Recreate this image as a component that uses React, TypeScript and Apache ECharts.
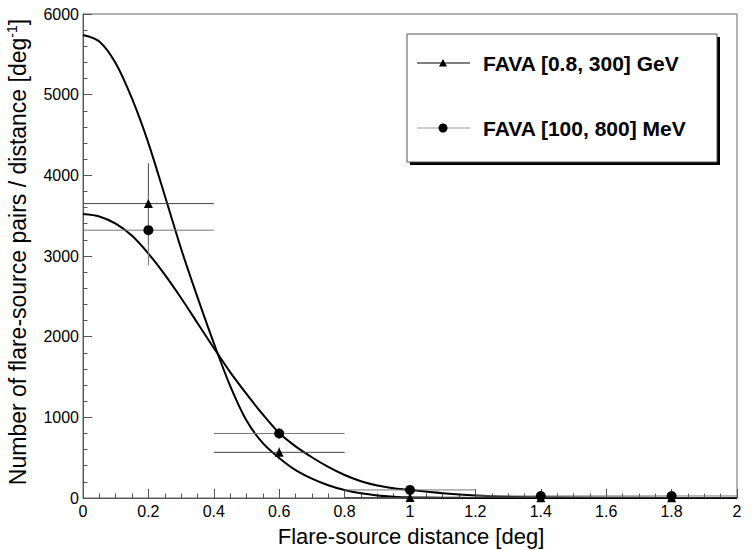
import React, { useEffect, useRef } from "react";
import * as echarts from "echarts";

// Smooth model curves
const curveX = [0, 0.05, 0.1, 0.15, 0.2, 0.25, 0.3, 0.35, 0.4, 0.45, 0.5, 0.55, 0.6, 0.65, 0.7, 0.75, 0.8, 0.85, 0.9, 0.95, 1.0, 1.1, 1.2, 1.3, 1.4, 1.6, 1.8, 2.0];
const curveGeV = [5740, 5660, 5390, 4950, 4400, 3750, 3090, 2490, 1920, 1390, 960, 680, 495, 345, 240, 158, 98, 58, 32, 17, 9, 3, 1, 0, 0, 0, 0, 0];
const curveMeV = [3520, 3490, 3400, 3250, 3030, 2770, 2480, 2170, 1860, 1560, 1290, 1035, 805, 640, 505, 385, 285, 208, 155, 122, 99, 60, 32, 16, 9, 3, 1, 0];

// Binned data points
const binCenters = [0.2, 0.6, 1.0, 1.4, 1.8];
const binHalfWidths = [0.2, 0.2, 0.2, 0.2, 0.2];
const gevValues = [3650, 566, 5, 3, 3];
const gevErrors = [500, 60, 15, 8, 8];
const mevValues = [3320, 800, 100, 25, 25];
const mevErrors = [440, 70, 25, 12, 12];

const legendLabels = ["FAVA [0.8, 300] GeV", "FAVA [100, 800] MeV"];
const xTitle = "Flare-source distance [deg]";
const yTitle = "Number of flare-source pairs / distance [deg{sup|-1}]";

const FONT = '"Liberation Sans", Arial, Helvetica, sans-serif';

function errorSeries(values: number[], errors: number[], color: string) {
  const data = binCenters.map((x, i) => [x, values[i], binHalfWidths[i], errors[i]]);
  return {
    type: "custom",
    data,
    encode: { x: 0, y: 1 },
    clip: true,
    z: 3,
    renderItem: (params: any, api: any) => {
      const x = api.value(0);
      const y = api.value(1);
      const xe = api.value(2);
      const ye = api.value(3);
      const l = api.coord([x - xe, y]);
      const r = api.coord([x + xe, y]);
      const b = api.coord([x, Math.max(0, y - ye)]);
      const t = api.coord([x, y + ye]);
      return {
        type: "group",
        children: [
          { type: "line", shape: { x1: l[0], y1: l[1], x2: r[0], y2: r[1] }, style: { stroke: color, lineWidth: 1 } },
          { type: "line", shape: { x1: b[0], y1: b[1], x2: t[0], y2: t[1] }, style: { stroke: color, lineWidth: 1 } },
        ],
      };
    },
  };
}

export default function App() {
  const ref = useRef<HTMLDivElement>(null);
  useEffect(() => {
    const chart = echarts.init(ref.current!, null, { renderer: "svg" });
    const axisColor = "#555";
    const option: any = {
      animation: false,
      backgroundColor: "#fff",
      textStyle: { fontFamily: FONT },
      grid: { left: 83, right: 15, top: 14, bottom: 52, show: true, borderColor: "#666", borderWidth: 1, backgroundColor: "transparent" },
      xAxis: {
        type: "value",
        min: 0,
        max: 2,
        interval: 0.2,
        axisLine: { show: true, onZero: false, lineStyle: { color: axisColor, width: 1 } },
        axisTick: { show: true, inside: true, length: 9, lineStyle: { color: axisColor } },
        minorTick: { show: true, splitNumber: 4, length: 4.5, lineStyle: { color: axisColor } },
        splitLine: { show: false },
        minorSplitLine: { show: false },
        axisLabel: { color: "#000", fontSize: 16, fontFamily: FONT, margin: 5, formatter: (v: number) => String(Math.round(v * 10) / 10) },
      },
      yAxis: {
        type: "value",
        min: 0,
        max: 6000,
        interval: 1000,
        axisLine: { show: true, onZero: false, lineStyle: { color: axisColor, width: 1 } },
        axisTick: { show: true, inside: true, length: 9, lineStyle: { color: axisColor } },
        minorTick: { show: true, splitNumber: 5, length: 4.5, lineStyle: { color: axisColor } },
        splitLine: { show: false },
        minorSplitLine: { show: false },
        axisLabel: { color: "#000", fontSize: 16, fontFamily: FONT, margin: 4, formatter: (v: number) => String(v) },
      },
      series: [
        {
          type: "line",
          data: curveX.map((x, i) => [x, curveGeV[i]]),
          showSymbol: false,
          smooth: 0.3,
          lineStyle: { color: "#000", width: 2 },
          z: 2,
        },
        {
          type: "line",
          data: curveX.map((x, i) => [x, curveMeV[i]]),
          showSymbol: false,
          smooth: 0.3,
          lineStyle: { color: "#000", width: 2 },
          z: 2,
        },
        errorSeries(gevValues, gevErrors, "#444"),
        errorSeries(mevValues, mevErrors, "#777"),
        {
          type: "scatter",
          data: binCenters.map((x, i) => [x, gevValues[i]]),
          symbol: "triangle",
          symbolSize: 9,
          itemStyle: { color: "#000", opacity: 1 },
          z: 4,
        },
        {
          type: "scatter",
          data: binCenters.map((x, i) => [x, mevValues[i]]),
          symbol: "circle",
          symbolSize: 10,
          itemStyle: { color: "#000", opacity: 1 },
          z: 4,
        },
      ],
      graphic: [
        {
          type: "text",
          x: 411,
          y: 536,
          style: { text: xTitle, font: `22px ${FONT}`, fill: "#000", align: "center", verticalAlign: "middle" },
        },
        {
          type: "text",
          x: 18,
          y: 252,
          rotation: Math.PI / 2,
          style: {
            text: yTitle,
            fill: "#000",
            align: "center",
            verticalAlign: "middle",
            fontFamily: FONT,
            fontSize: 23,
            lineHeight: 26,
            rich: {
              sup: { fontSize: 14, fontFamily: FONT, fill: "#000", lineHeight: 26, verticalAlign: "top" },
            },
          },
        },
        // legend box with shadow
        { type: "rect", shape: { x: 410, y: 37, width: 310, height: 128 }, style: { fill: "#000" }, z: 10 },
        { type: "rect", shape: { x: 407, y: 34, width: 310, height: 128 }, style: { fill: "#fff", stroke: "#555", lineWidth: 1 }, z: 11 },
        { type: "line", shape: { x1: 417, y1: 63, x2: 470, y2: 63 }, style: { stroke: "#000", lineWidth: 1 }, z: 12 },
        { type: "polygon", shape: { points: [[443, 59], [447, 66.5], [439, 66.5]] }, style: { fill: "#000" }, z: 13 },
        {
          type: "text",
          x: 483,
          y: 63,
          style: { text: legendLabels[0], font: `bold 21px ${FONT}`, fill: "#000", verticalAlign: "middle" },
          z: 13,
        },
        { type: "line", shape: { x1: 417, y1: 128, x2: 470, y2: 128 }, style: { stroke: "#999", lineWidth: 1 }, z: 12 },
        { type: "circle", shape: { cx: 443, cy: 128, r: 4.5 }, style: { fill: "#000" }, z: 13 },
        {
          type: "text",
          x: 483,
          y: 128,
          style: { text: legendLabels[1], font: `bold 21px ${FONT}`, fill: "#000", verticalAlign: "middle" },
          z: 13,
        },
      ],
    };
    chart.setOption(option);
    return () => chart.dispose();
  }, []);
  return <div ref={ref} style={{ position: "fixed", left: 0, top: 0, width: 752, height: 550 }} />;
}
